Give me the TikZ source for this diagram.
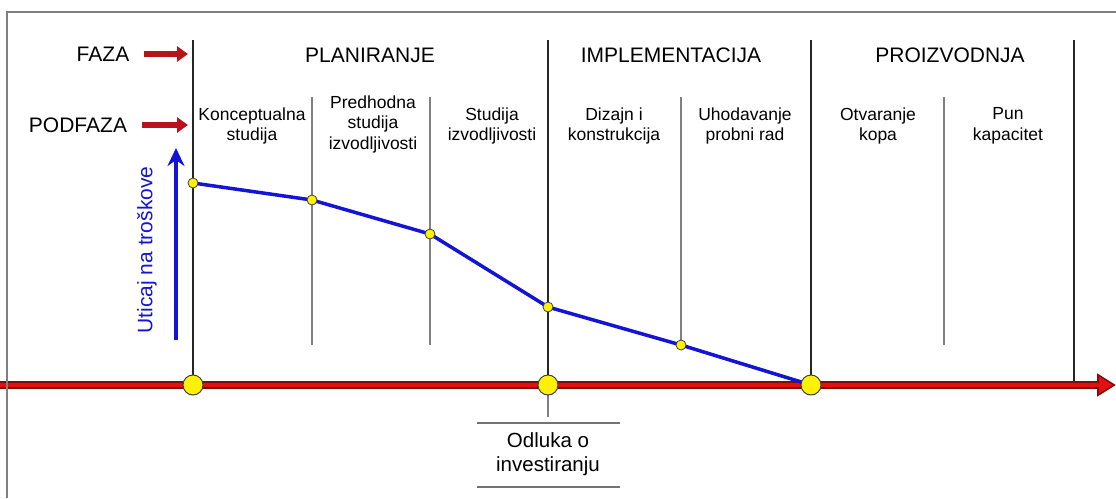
\documentclass[tikz,border=0pt]{standalone}
\usepackage{fontspec}
\setmainfont{Liberation Sans}
\usetikzlibrary{arrows.meta,backgrounds}
\definecolor{arrowRed}{RGB}{185,18,28}
\definecolor{axisRed}{RGB}{226,16,16}
\definecolor{axisDark}{RGB}{130,10,10}
\definecolor{costBlue}{RGB}{20,20,215}

\begin{document}
\begin{tikzpicture}[x=1pt,y=-1pt]
	\useasboundingbox (0,0) rectangle (1116,498);
	
	\tikzstyle{phase}=[font=\fontsize{21}{24}\selectfont]
	\tikzstyle{subphase}=[align=center,font=\fontsize{17.5}{20.5}\selectfont]
	\tikzstyle{mainLine}=[draw=black!85,line width=1.8pt]
	\tikzstyle{subLine}=[draw=black!50,line width=1.3pt]
	\tikzstyle{bigDot}=[draw=black!75,fill=yellow,circle,minimum size=20pt,inner sep=0pt,line width=1pt]
	\tikzstyle{smallDot}=[draw=black!75,fill=yellow,circle,minimum size=10pt,inner sep=0pt,line width=0.8pt]
	\tikzstyle{redArrow}=[draw=arrowRed,line width=5.5pt,-{Triangle[length=11pt,width=15pt]}]
	
	% frame
	\draw[black!50,line width=1.5pt] (7,498) -- (7,12) -- (1116,12);
	
	\node[phase](faza) at (103,54){FAZA};
	\node[phase](podfaza) at (78,125){PODFAZA};
	\coordinate(fazaEnd) at (188,54);
	\coordinate(podfazaEnd) at (188,125);
	\draw[redArrow] ([xshift=11pt]faza.east) -- (fazaEnd);
	\draw[redArrow] ([xshift=11pt]podfaza.east) -- (podfazaEnd);
	
	\node[phase](planiranje) at (370,55){PLANIRANJE};
	\node[phase](implementacija) at (671,55){IMPLEMENTACIJA};
	\node[phase](proizvodnja) at (950,55){PROIZVODNJA};
	
	\node[subphase](konceptualna) at (252,126){Konceptualna\\studija};
	\node[subphase](predhodna) at (373,124){Predhodna\\studija\\izvodljivosti};
	\node[subphase](studija) at (492,126){Studija\\izvodljivosti};
	\node[subphase](dizajn) at (614,126){Dizajn i\\konstrukcija};
	\node[subphase](uhodavanje) at (745,126){Uhodavanje\\probni rad};
	\node[subphase](otvaranje) at (878,126){Otvaranje\\kopa};
	\node[subphase](pun) at (1008,126){Pun\\kapacitet};
	
	\coordinate(divA) at (193,40);
	\coordinate(divB) at (548,40);
	\coordinate(divC) at (811,40);
	\coordinate(divD) at (1074,40);
	\coordinate(divDEnd) at (1074,383);
	\coordinate(decisionTick) at (548,417);
	
	\node[bigDot](startDot) at (193,385){};
	\node[bigDot](decisionDot) at (548,385){};
	\node[bigDot](productionDot) at (811,385){};
	
	\node[smallDot](costA) at (193,183){};
	\node[smallDot](costB) at (312,200){};
	\node[smallDot](costC) at (430,234){};
	\node[smallDot](costD) at (548,307){};
	\node[smallDot](costE) at (681,345){};
	
	\begin{scope}[on background layer]
		\foreach \x in {312,430,681,944}
			\draw[subLine] (\x,97) -- (\x,345);
		
		\draw[mainLine] (divA) -- (startDot.center);
		\draw[mainLine] (divB) -- (decisionDot.center);
		\draw[subLine] (decisionDot.center) -- (decisionTick);
		\draw[mainLine] (divC) -- (productionDot.center);
		\draw[mainLine] (divD) -- (divDEnd);
		
		% time axis
		\coordinate(axisStart) at (0,385);
		\coordinate(axisEnd) at (1116,385);
		\draw[axisDark,line width=8pt,-{Triangle[length=19pt,width=22pt]}] (axisStart) -- (axisEnd);
		\draw[axisRed,line width=4.5pt,shorten >=3pt,-{Triangle[length=14pt,width=16pt]}] (axisStart) -- (axisEnd);
		
		% influence on costs
		\draw[costBlue,line width=3.5pt,line join=round] (costA.center) -- (costB.center) -- (costC.center) -- (costD.center) -- (costE.center) -- (productionDot.center);
	\end{scope}
	
	\coordinate(costLow) at (176,340);
	\coordinate(costHigh) at (176,148);
	\draw[costBlue,line width=3.5pt,-{Stealth[length=18pt,width=17pt]}] (costLow) -- (costHigh);
	\node[rotate=90,text=costBlue,font=\fontsize{21}{24}\selectfont](costLabel) at (147,250){Uticaj na troškove};
	
	% investment decision
	\node[align=center,font=\fontsize{20.5}{24}\selectfont](odluka) at (548,454){Odluka o\\investiranju};
	\coordinate(odlukaTopL) at (477,423);
	\coordinate(odlukaTopR) at (620,423);
	\coordinate(odlukaBotL) at (477,487);
	\coordinate(odlukaBotR) at (620,487);
	\draw[black!55,line width=1.3pt] (odlukaTopL) -- (odlukaTopR);
	\draw[black!55,line width=1.3pt] (odlukaBotL) -- (odlukaBotR);
	
\end{tikzpicture}
\end{document}
